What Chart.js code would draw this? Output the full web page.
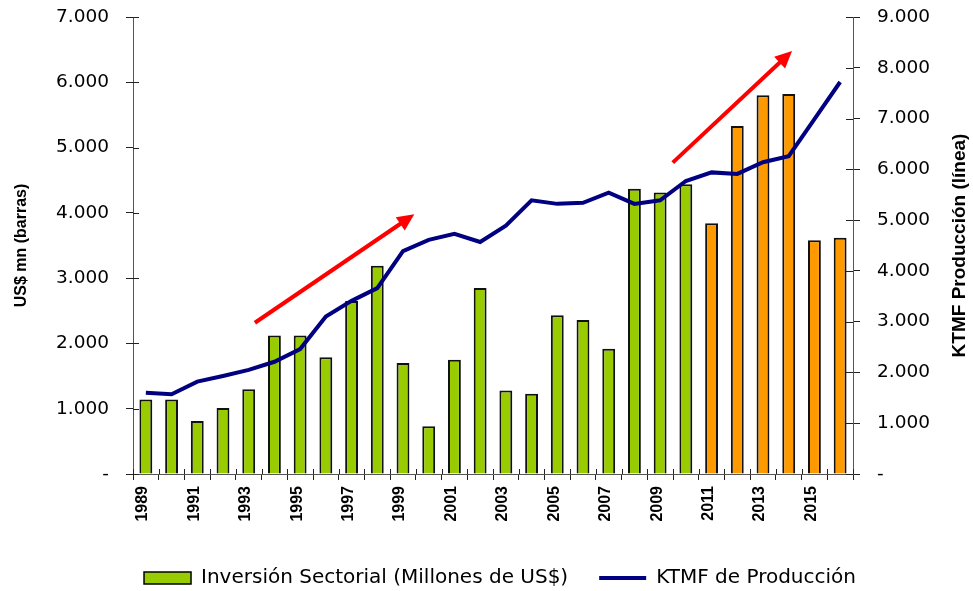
<!DOCTYPE html>
<html>
<head>
<meta charset="utf-8">
<script src="https://cdn.jsdelivr.net/npm/chart.js@4.4.1/dist/chart.umd.min.js"></script>
<style>
html,body{margin:0;padding:0;background:#fff;}
canvas{display:block;}
</style>
</head>
<body>
<canvas id="c" width="973" height="591"></canvas>
<script>
// ---- data ----
const years = ['1989','1990','1991','1992','1993','1994','1995','1996','1997','1998','1999','2000','2001','2002','2003','2004','2005','2006','2007','2008','2009','2010','2011','2012','2013','2014','2015','2016'];
const inversion = [1140,1140,810,1010,1300,2120,2120,1790,2650,3190,1700,730,1750,2850,1280,1230,2430,2360,1920,4370,4310,4440,3840,5330,5800,5820,3580,3620];
const produccion = [1600,1570,1820,1930,2050,2210,2460,3100,3410,3660,4390,4610,4730,4570,4890,5390,5320,5340,5540,5320,5390,5770,5940,5910,6140,6260,6990,7720];
const leftTickLabels = ['-','1.000','2.000','3.000','4.000','5.000','6.000','7.000'];
const rightTickLabels = ['-','1.000','2.000','3.000','4.000','5.000','6.000','7.000','8.000','9.000'];
const seriesNames = ['Inversión Sectorial (Millones de US$)', 'KTMF de Producción'];
const leftTitle = 'US$ mn (barras)';
const rightTitle = 'KTMF Producción (línea)';
const projectedFrom = '2011';
// trend arrows in data units: [category index, left-axis value]
const arrows = [
  {from: [4.24, 2317], to: [10.44, 3978]},
  {from: [20.49, 4770], to: [25.13, 6479]}
];

const GREEN = '#99CC00', ORANGE = '#FF9900', NAVY = '#000080', RED = '#FF0000';
const barColors = years.map(y => (+y >= +projectedFrom ? ORANGE : GREEN));

const extras = {
  id: 'extras',
  afterDraw(chart) {
    const ctx = chart.ctx;
    const {x, y, y1} = chart.scales;
    ctx.save();
    // inner halves of tick marks
    ctx.strokeStyle = '#222';
    ctx.lineWidth = 1;
    ctx.beginPath();
    y.ticks.forEach(t => {
      const py = Math.round(y.getPixelForValue(t.value)) + 0.5;
      ctx.moveTo(y.right, py); ctx.lineTo(y.right + 6, py);
    });
    y1.ticks.forEach(t => {
      const py = Math.round(y1.getPixelForValue(t.value)) + 0.5;
      ctx.moveTo(y1.left - 7, py); ctx.lineTo(y1.left, py);
    });
    for (let i = 0; i <= years.length; i++) {
      const px = Math.round(x.getPixelForValue(i - 0.5)) + 0.5;
      ctx.moveTo(px, x.top - 5); ctx.lineTo(px, x.top);
    }
    ctx.stroke();
    // arrows
    ctx.strokeStyle = RED; ctx.fillStyle = RED; ctx.lineWidth = 4; ctx.lineCap = 'butt';
    arrows.forEach(a => {
      const x0 = x.getPixelForValue(a.from[0]), y0 = y.getPixelForValue(a.from[1]);
      const x1 = x.getPixelForValue(a.to[0]), y1p = y.getPixelForValue(a.to[1]);
      const ang = Math.atan2(y1p - y0, x1 - x0);
      const hl = 17, hw = 8;
      const bx = x1 - hl * Math.cos(ang), by = y1p - hl * Math.sin(ang);
      ctx.beginPath(); ctx.moveTo(x0, y0); ctx.lineTo(bx + 2*Math.cos(ang), by + 2*Math.sin(ang)); ctx.stroke();
      ctx.beginPath();
      ctx.moveTo(x1, y1p);
      ctx.lineTo(bx + hw * Math.sin(ang), by - hw * Math.cos(ang));
      ctx.lineTo(bx - hw * Math.sin(ang), by + hw * Math.cos(ang));
      ctx.closePath(); ctx.fill();
    });
    // right axis title (reads bottom to top)
    ctx.fillStyle = '#000';
    ctx.font = 'bold 19px "Liberation Sans", Arial, sans-serif';
    ctx.textAlign = 'center'; ctx.textBaseline = 'middle';
    ctx.translate(960, (chart.chartArea.top + chart.chartArea.bottom) / 2);
    ctx.rotate(-Math.PI / 2);
    ctx.fillText(rightTitle, 0, 0);
    ctx.restore();
  }
};

const tickFont = {family: '"DejaVu Sans", sans-serif', size: 18.5};
const noPad = s => { s.paddingTop = 0; s.paddingBottom = 0; };

new Chart(document.getElementById('c'), {
  data: {
    labels: years,
    datasets: [
      {
        type: 'bar', label: seriesNames[0], data: inversion, yAxisID: 'y', order: 1,
        backgroundColor: barColors, borderColor: '#111', borderWidth: 2,
        barPercentage: 0.5, categoryPercentage: 1
      },
      {
        type: 'line', label: seriesNames[1], data: produccion, yAxisID: 'y1', order: 0,
        borderColor: NAVY, backgroundColor: NAVY, borderWidth: 4, pointRadius: 0, tension: 0, fill: false
      }
    ]
  },
  options: {
    responsive: false, animation: false,
    layout: {padding: {top: 17, bottom: -7, left: 0, right: -27}},
    plugins: {
      tooltip: {enabled: false},
      legend: {
        position: 'bottom', align: 'center',
        labels: {
          usePointStyle: true, pointStyleWidth: 47, boxHeight: 12, padding: 31, color: '#000',
          font: {family: '"DejaVu Sans", sans-serif', size: 20},
          generateLabels: () => [
            {text: seriesNames[0], fillStyle: GREEN, strokeStyle: '#000', lineWidth: 1.5, pointStyle: 'rect', datasetIndex: 0, hidden: false, fontColor: '#000'},
            {text: seriesNames[1], fillStyle: NAVY, strokeStyle: NAVY, lineWidth: 4, pointStyle: 'line', datasetIndex: 1, hidden: false, fontColor: '#000'}
          ]
        }
      }
    },
    scales: {
      x: {
        offset: true,
        grid: {display: true, drawOnChartArea: false, drawTicks: true, tickLength: 6, color: '#222', offset: true},
        border: {display: true, color: '#555', width: 1},
        ticks: {
          autoSkip: false, maxRotation: 90, minRotation: 90, padding: 6, labelOffset: -3, color: '#000',
          font: {family: '"Liberation Sans", Arial, sans-serif', size: 16, weight: 'bold'},
          callback: (v, i) => (i % 2 === 0 ? years[i] : '')
        },
        afterFit: s => { s.height = 63; s.paddingLeft = 0; s.paddingRight = 0; }
      },
      y: {
        position: 'left', min: 0, max: 7000,
        grid: {drawOnChartArea: false, tickLength: 7, color: '#222'},
        border: {display: true, color: '#555', width: 1},
        ticks: {stepSize: 1000, padding: 17, color: '#000', font: tickFont,
          callback: v => leftTickLabels[Math.round(v / 1000)]},
        title: {display: true, text: leftTitle, color: '#000', padding: {top: 12, bottom: 0},
          font: {family: '"Liberation Sans", Arial, sans-serif', size: 16, weight: 'bold'}},
        afterFit: s => { s.width = 133; noPad(s); }
      },
      y1: {
        position: 'right', min: 0, max: 9000,
        grid: {drawOnChartArea: false, tickLength: 7, color: '#222'},
        border: {display: true, color: '#555', width: 1},
        ticks: {stepSize: 1000, padding: 17, color: '#000', font: tickFont,
          callback: v => rightTickLabels[Math.round(v / 1000)]},
        afterFit: s => { s.width = 147; noPad(s); }
      }
    }
  },
  plugins: [extras]
});
</script>
</body>
</html>
